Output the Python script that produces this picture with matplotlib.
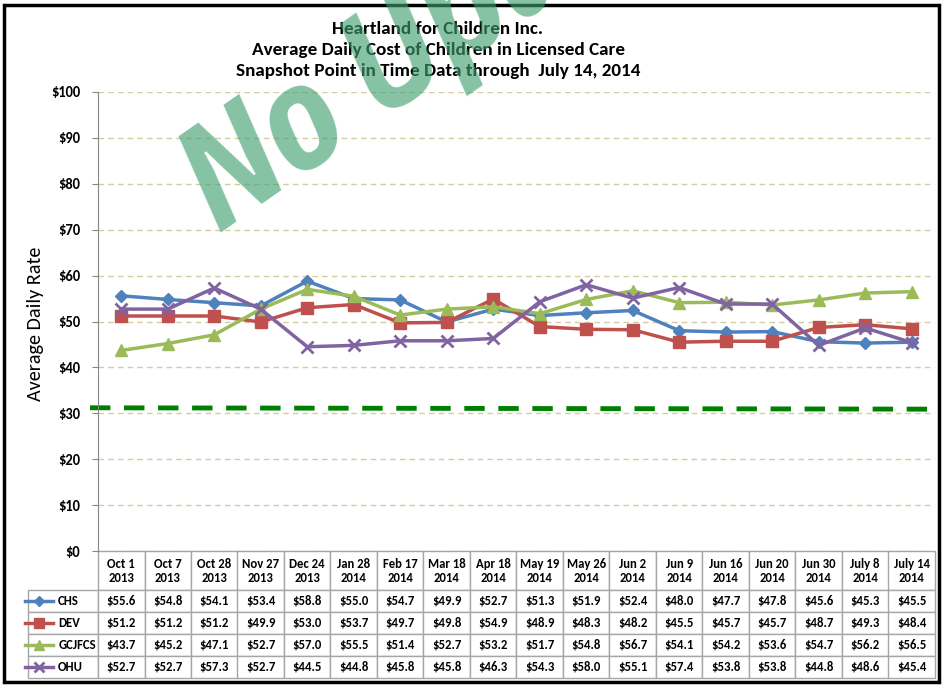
import matplotlib
matplotlib.use("Agg")
import matplotlib.pyplot as plt
from matplotlib.patches import Rectangle
from matplotlib.transforms import blended_transform_factory

plt.rcParams['font.family'] = ['Carlito', 'Lato', 'DejaVu Sans']

categories = ["Oct 1\n2013", "Oct 7\n2013", "Oct 28\n2013", "Nov 27\n2013", "Dec 24\n2013",
              "Jan 28\n2014", "Feb 17\n2014", "Mar 18\n2014", "Apr 18\n2014", "May 19\n2014",
              "May 26\n2014", "Jun 2\n2014", "Jun 9\n2014", "Jun 16\n2014", "Jun 20\n2014",
              "Jun 30\n2014", "July 8\n2014", "July 14\n2014"]
series_names = ["CHS", "DEV", "GCJFCS", "OHU"]
chs = [55.6, 54.8, 54.1, 53.4, 58.8, 55.0, 54.7, 49.9, 52.7, 51.3, 51.9, 52.4, 48.0, 47.7, 47.8, 45.6, 45.3, 45.5]
dev = [51.2, 51.2, 51.2, 49.9, 53.0, 53.7, 49.7, 49.8, 54.9, 48.9, 48.3, 48.2, 45.5, 45.7, 45.7, 48.7, 49.3, 48.4]
gcjfcs = [43.7, 45.2, 47.1, 52.7, 57.0, 55.5, 51.4, 52.7, 53.2, 51.7, 54.8, 56.7, 54.1, 54.2, 53.6, 54.7, 56.2, 56.5]
ohu = [52.7, 52.7, 57.3, 52.7, 44.5, 44.8, 45.8, 45.8, 46.3, 54.3, 58.0, 55.1, 57.4, 53.8, 53.8, 44.8, 48.6, 45.4]
threshold = [31.2, 30.9]
y_ticks = [0, 10, 20, 30, 40, 50, 60, 70, 80, 90, 100]
y_ticklabels = ["$0", "$10", "$20", "$30", "$40", "$50", "$60", "$70", "$80", "$90", "$100"]
title_lines = "Heartland for Children Inc.\nAverage Daily Cost of Children in Licensed Care\nSnapshot Point in Time Data through  July 14, 2014"
ylabel = "Average Daily Rate"
watermark = "No Update"

colors = ["#4F81BD", "#C0504D", "#9BBB59", "#8064A2"]
markers = ["D", "s", "^", "x"]
msizes = [6, 8, 8, 8]
data = [chs, dev, gcjfcs, ohu]

W, H = 943, 686
fig = plt.figure(figsize=(W / 100, H / 100), dpi=100)
ax_l, ax_r, ax_t, ax_b = 98, 935, 92, 551
ax = fig.add_axes([ax_l / W, 1 - ax_b / H, (ax_r - ax_l) / W, (ax_b - ax_t) / H])

n = len(categories)
x = list(range(n))
for vals, c, m, ms in zip(data, colors, markers, msizes):
    ax.plot(x, vals, color=c, lw=2.5, marker=m, ms=ms, mew=2 if m == "x" else 1,
            mec=c, mfc=c, zorder=3)

ax.set_xlim(-0.5, n - 0.5)
ax.set_ylim(0, 100)
ax.set_yticks(y_ticks)
ax.set_yticklabels(y_ticklabels, fontweight="bold", fontsize=10.5)
ax.set_xticks([])
ax.tick_params(axis="y", length=4, color="#868686", pad=9)
ax.grid(axis="y", color="#D4CDA0", linestyle=(0, (4, 3)), lw=1)
ax.set_axisbelow(True)
for s in ["top", "right", "bottom"]:
    ax.spines[s].set_visible(False)
ax.spines["left"].set_color("#868686")
ax.set_ylabel(ylabel, fontsize=14.5)
axw = ax_r - ax_l
axh = ax_b - ax_t
ax.yaxis.set_label_coords((44 - ax_l) / axw, 0.495)

# threshold dashed line
tr = blended_transform_factory(ax.transAxes, ax.transData)
ax.plot([-(ax_l - 90) / axw, 1.003], threshold, transform=tr, color="#008000",
        lw=3.5, dashes=(4.2, 2.8), clip_on=False, zorder=2)

# table
cell_text = [[f"${v:.1f}" for v in vals] for vals in data]
row_lab_w = (98 - 22) / axw
col_w = 1.0 / n
tab = ax.table(cellText=cell_text, rowLabels=series_names, colLabels=categories,
               colWidths=[col_w] * n, cellLoc="center", rowLoc="left",
               bbox=[0, -(678 - 551) / axh, 1, (678 - 551) / axh])
tab.auto_set_font_size(False)
for (r, c), cell in tab.get_celld().items():
    cell.set_edgecolor("#A6A6A6")
    cell.set_linewidth(1)
    cell.get_text().set_fontweight("bold")
    cell.get_text().set_fontsize(9.2)
    if r == 0:
        cell.set_height(39)
    else:
        cell.set_height(22)
    if c == -1:
        cell.set_width(row_lab_w)
        cell.PAD = (55 - 22) / 76

# legend keys in row label cells
for i, (c, m, ms) in enumerate(zip(colors, markers, msizes)):
    yc = -(590 - 551 + 22 * i + 11) / axh
    x0 = (25 - ax_l) / axw
    x1 = (53 - ax_l) / axw
    ax.plot([x0, x1], [yc, yc], transform=ax.transAxes, color=c, lw=2.5, clip_on=False)
    ax.plot([(x0 + x1) / 2], [yc], transform=ax.transAxes, color=c, marker=m,
            ms=ms - 1, mew=2 if m == "x" else 1, clip_on=False)

# title
fig.text(438 / W, 1 - 21 / H, title_lines, ha="center", va="top", fontsize=13.8,
         fontweight="bold", linespacing=1.38)

# watermark
fig.text(220 / W, 1 - 234 / H, watermark, rotation=35, rotation_mode="anchor",
         ha="left", va="baseline", fontsize=106, fontweight="bold", fontstyle="italic",
         color="#3F9E6F", alpha=0.63, zorder=10,
         family=["IBM Plex Sans Condensed", "Open Sans Condensed", "DejaVu Sans"])

# outer border
fig.patches.append(Rectangle((4 / W, 1 - 682 / H), (939 - 4) / W, (682 - 5) / H,
                             transform=fig.transFigure, fill=False, ec="black", lw=2.5))

fig.savefig("out.png", dpi=100)
